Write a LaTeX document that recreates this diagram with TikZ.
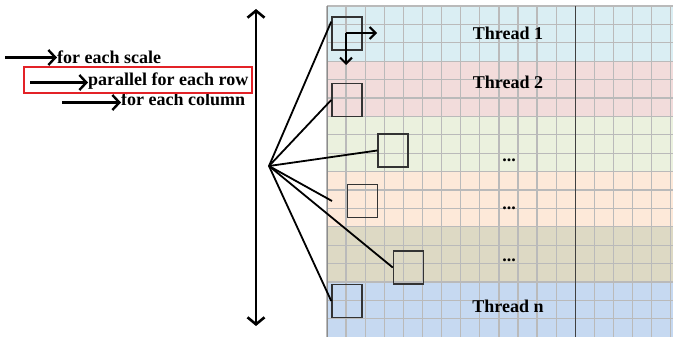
\documentclass[tikz,border=0pt]{standalone}
\usepackage{fontspec}
\setmainfont{Liberation Serif}
\usetikzlibrary{arrows.meta,calc}
\definecolor{bandA}{HTML}{DAEEF3}
\definecolor{bandB}{HTML}{F2DCDB}
\definecolor{bandC}{HTML}{EBF1DE}
\definecolor{bandD}{HTML}{FDE9D9}
\definecolor{bandE}{HTML}{DDD9C4}
\definecolor{bandF}{HTML}{C6D9F1}
\definecolor{redbox}{HTML}{E32227}
\begin{document}
\begin{tikzpicture}[x=1pt,y=-1pt,
  lbl/.style={font=\fontsize{18}{20}\selectfont\bfseries, inner sep=0pt},
  cellbox/.style={draw=black!80, line width=1.5pt, minimum width=30pt, minimum height=33pt, inner sep=0pt},
  fanline/.style={line width=1.8pt},
  gridline/.style={draw=black!27, line width=1.3pt},
  barb/.style={-{Straight Barb[length=7pt,width=15pt,line width=2.4pt]}},
  smallbarb/.style={line width=2pt,-{Straight Barb[length=6pt,width=12pt,line width=2pt]}}
]
\fill[white] (0,0) rectangle (673,337);
\useasboundingbox (0,0) rectangle (673,337);

% bands
\foreach \c [count=\i from 0] in {bandA,bandB,bandC,bandD,bandE,bandF}
  \fill[\c] (327,{6+55.2*\i}) rectangle (673,{6+55.2*(\i+1)});
% grid
\foreach \k in {0,...,18}
  \draw[gridline] ({327+19.1*\k},6) -- ({327+19.1*\k},337);
\foreach \r in {0,...,18}
  \draw[gridline] (327,{6+18.4*\r}) -- (673,{6+18.4*\r});
\draw[black!45, line width=1pt] (327,6) -- (327,337);
\draw[black!75, line width=1pt] (575,6) -- (575,337);

% thread labels
\node[lbl, anchor=base] (t1) at (508,40) {Thread 1};
\node[lbl, anchor=base] (t2) at (508,89) {Thread 2};
\node[lbl, anchor=base] (t3) at (509,161) {...};
\node[lbl, anchor=base] (t4) at (509,209) {...};
\node[lbl, anchor=base] (t5) at (509,261) {...};
\node[lbl, anchor=base] (t6) at (508,312) {Thread n};

% boxes
\node[cellbox] (b1) at (347,33.5) {};
\node[cellbox] (b2) at (347,100) {};
\node[cellbox] (b3) at (393,150.5) {};
\node[cellbox] (b4) at (362.5,201) {};
\node[cellbox] (b5) at (408.5,267.5) {};
\node[cellbox] (b6) at (347,301) {};

% L arrows in first box
\coordinate (lc) at (346,33);
\coordinate (lr) at (377,33);
\coordinate (ld) at (346,65);
\draw[smallbarb] (lc) -- (lr);
\draw[smallbarb] (lc) -- (ld);

% fan
\coordinate (f) at (269,166);
\coordinate (e4) at (332,201);
\draw[fanline] (f) -- (b1.143);
\draw[fanline] (f) -- (b2.west);
\draw[fanline] (f) -- (b3.west);
\draw[fanline] (f) -- (e4);
\draw[fanline] (f) -- (b5.west);
\draw[fanline] (f) -- (b6.west);

% vertical double arrow
\coordinate (vt) at (256,9);
\coordinate (vb) at (256,326);
\draw[line width=2.6pt, {Straight Barb[length=7pt,width=17pt,line width=2.6pt]}-{Straight Barb[length=7pt,width=17pt,line width=2.6pt]}] (vt) -- (vb);

% left labels
\node[lbl, anchor=base west] (l1) at (57,64) {for each scale};
\node[lbl, anchor=base west] (l2) at (88,85.5) {parallel for each row};
\node[lbl, anchor=base west] (l3) at (121,106) {for each column};
\coordinate (a1) at (5,57.5);
\coordinate (a2) at (30,82.5);
\coordinate (a3) at (62,102.5);
\draw[line width=2.6pt, barb] (a1) -- (a1 -| l1.west);
\draw[line width=2.6pt, barb] (a2) -- (a2 -| l2.west);
\draw[line width=2.6pt, barb] (a3) -- (a3 -| l3.west);
\draw[redbox, line width=2.6pt] (24,67) rectangle (252,93);
\end{tikzpicture}
\end{document}
